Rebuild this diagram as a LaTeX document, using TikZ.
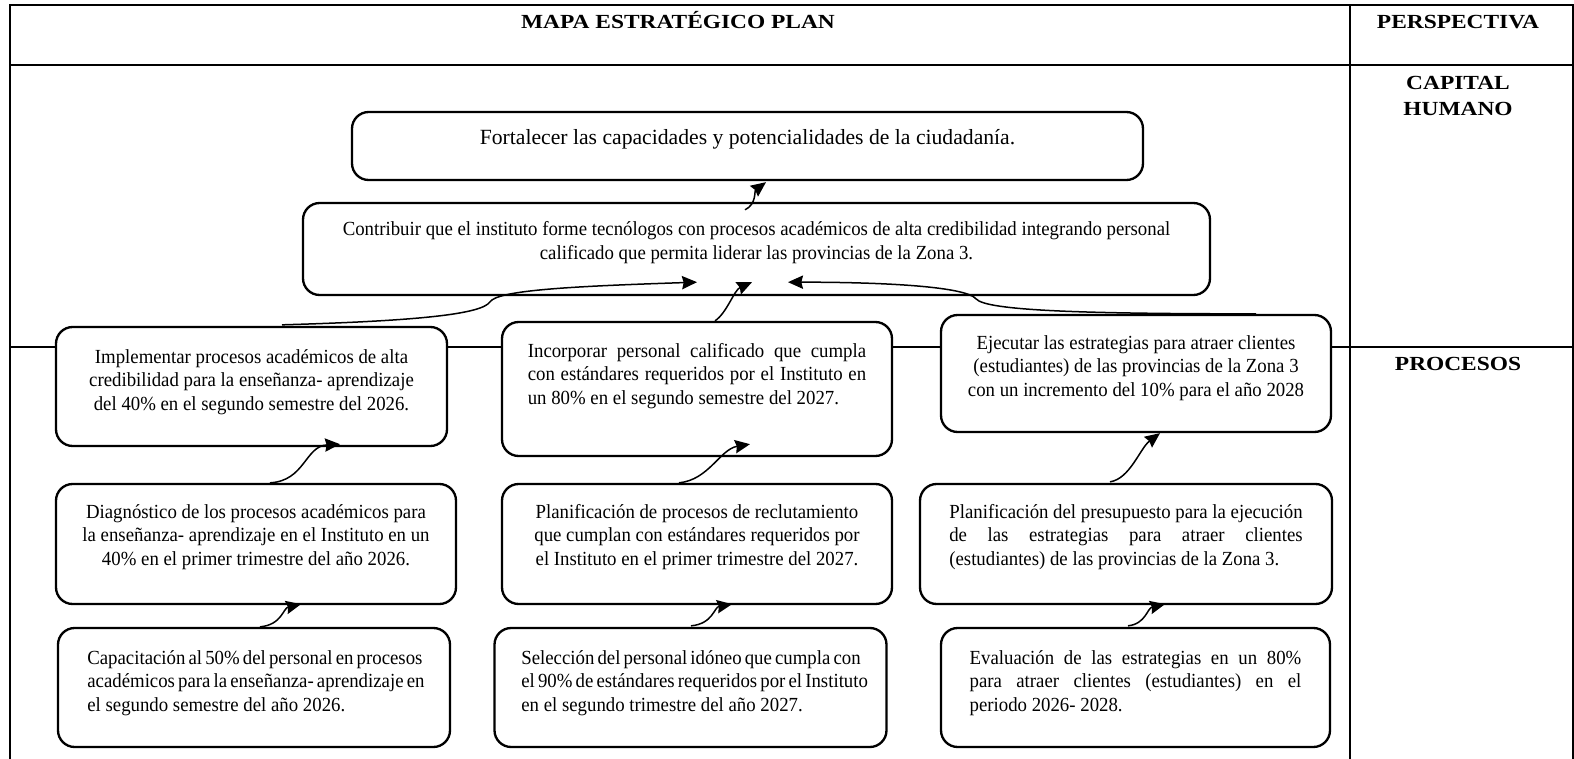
\documentclass[tikz,border=0pt]{standalone}
\usepackage{fontspec}
\setmainfont{Liberation Serif}
\newfontfamily\bodyfont[FakeStretch=0.94]{Liberation Serif}
\newfontfamily\headfont[FakeStretch=1.17]{Liberation Serif}
\usetikzlibrary{arrows.meta}

% top-aligned text blocks inside the rounded goal boxes
\newcommand\ctext[4]{\parbox[c][#1][t]{#2}{\centering\rule{0pt}{#3}#4}}
\newcommand\jtext[4]{\parbox[c][#1][t]{#2}{\rule{0pt}{#3}#4}}
\newcommand\jl[1]{\makebox[\linewidth][s]{#1}\par}

\tikzset{
  goal/.style={draw, line width=1.4pt, rounded corners=10pt, fill=white,
    inner sep=0pt, font=\bodyfont\fontsize{12}{14.2}\selectfont},
  link/.style={line width=0.9pt, -{Stealth[length=9pt,width=8pt,inset=1pt]}},
  grid/.style={line width=1.2pt},
  head/.style={font=\headfont\bfseries\fontsize{12}{15.6}\selectfont, align=center, inner sep=0pt}
}

\begin{document}
\begin{tikzpicture}[x=0.6pt, y=-0.6pt]
\useasboundingbox (0,0) rectangle (1574,759);

% table frame
\draw[grid] (10,759) -- (10,5) -- (1573,5) -- (1573,759);
\draw[grid] (10,65) -- (1573,65);
\draw[grid] (1350,5) -- (1350,759);
\draw[grid] (10,347) -- (1573,347);

% headings
\node[head, anchor=base] (title) at (678,29) {MAPA ESTRATÉGICO PLAN};
\node[head, anchor=base] (persp) at (1458,29) {PERSPECTIVA};
\node[head, anchor=north] (capital) at (1458,76) {CAPITAL\\HUMANO};
\node[head, anchor=base] (procesos) at (1458,370) {PROCESOS};

% objectives
\node[goal, font=\rmfamily\fontsize{13}{15}\selectfont, minimum width=474.6pt, minimum height=40.8pt] (B1) at (747.5,146)
  {\ctext{40.8pt}{460pt}{19.8pt}{Fortalecer las capacidades y potencialidades de la ciudadanía.}};
\node[goal, minimum width=544.2pt, minimum height=55.2pt] (B2) at (756.5,249)
  {\ctext{55.2pt}{530pt}{19.8pt}{Contribuir que el instituto forme tecnólogos con procesos académicos de alta credibilidad integrando personal\\calificado que permita liderar las provincias de la Zona 3.}};

\node[goal, minimum width=234.6pt, minimum height=71.4pt] (L1) at (251.5,386.5)
  {\ctext{71.4pt}{225pt}{21.6pt}{Implementar procesos académicos de alta\\credibilidad para la enseñanza- aprendizaje\\del 40\% en el segundo semestre del 2026.}};
\node[goal, minimum width=234pt, minimum height=80.4pt] (M1) at (697,389)
  {\jtext{80.4pt}{203pt}{21pt}{\jl{Incorporar personal calificado que cumpla}\jl{con estándares requeridos por el Instituto en}un 80\% en el segundo semestre del 2027.}};
\node[goal, minimum width=234pt, minimum height=70.2pt] (R1) at (1136,373.5)
  {\ctext{70.2pt}{225pt}{20.4pt}{Ejecutar las estrategias para atraer clientes\\(estudiantes) de las provincias de la Zona 3\\con un incremento del 10\% para el año 2028}};

\node[goal, minimum width=240pt, minimum height=72pt] (L2) at (256,544)
  {\ctext{72pt}{230pt}{20.4pt}{Diagnóstico de los procesos académicos para\\la enseñanza- aprendizaje en el Instituto en un\\40\% en el primer trimestre del año 2026.}};
\node[goal, minimum width=234pt, minimum height=72pt] (M2) at (697,544)
  {\ctext{72pt}{225pt}{20.4pt}{Planificación de procesos de reclutamiento\\que cumplan con estándares requeridos por\\el Instituto en el primer trimestre del 2027.}};
\node[goal, minimum width=247.2pt, minimum height=72pt] (R2) at (1126,544)
  {\jtext{72pt}{212pt}{20.4pt}{\jl{Planificación del presupuesto para la ejecución}\jl{de las estrategias para atraer clientes}(estudiantes) de las provincias de la Zona 3.}};

\node[goal, minimum width=235.2pt, minimum height=71.4pt] (L3) at (254,687.5)
  {\jtext{71.4pt}{200pt}{21.6pt}{\jl{Capacitación al 50\% del personal en procesos}\jl{académicos para la enseñanza- aprendizaje en}el segundo semestre del año 2026.}};
\node[goal, minimum width=235.2pt, minimum height=71.4pt] (M3) at (690.5,687.5)
  {\jtext{71.4pt}{203pt}{21.6pt}{\jl{Selección del personal idóneo que cumpla con}\jl{el 90\% de estándares requeridos por el Instituto}en el segundo trimestre del año 2027.}};
\node[goal, minimum width=233.4pt, minimum height=71.4pt] (R3) at (1135.5,687.5)
  {\jtext{71.4pt}{199pt}{21.6pt}{\jl{Evaluación de las estrategias en un 80\%}\jl{para atraer clientes (estudiantes) en el}periodo 2026- 2028.}};

% cause-effect links
\draw[link] ([shift={(-11.5,8)}]B2.north) .. controls +(12,-6) and +(-12,9) .. ([shift={(18.5,1)}]B1.south);

\draw[link] ([shift={(30.5,-1)}]L1.north) .. controls +(140,-4) and +(-8,12) ..
  ([shift={(238.5,-24)}]L1.north) .. controls +(8,-12) and +(-120,4) .. ([shift={(-59.5,-14)}]B2.south);
\draw[link] ([shift={(18,0)}]M1.north) .. controls +(12,-8) and +(-18,8) .. ([shift={(-4.5,-14)}]B2.south);
\draw[link] ([shift={(120,0)}]R1.north) .. controls +(-170,0) and +(10,12) ..
  ([shift={(-160,-15)}]R1.north) .. controls +(-10,-12) and +(100,0) .. ([shift={(31.5,-14)}]B2.south);

\draw[link] ([shift={(14,0)}]L2.north) .. controls +(35,-2) and +(-35,2) .. ([shift={(88.5,-3)}]L1.south);
\draw[link] ([shift={(-18,0)}]M2.north) .. controls +(30,-3) and +(-30,5) .. ([shift={(53,-13)}]M1.south);
\draw[link] ([shift={(-16,-1)}]R2.north) .. controls +(20,-3) and +(-20,15) .. ([shift={(24,0)}]R1.south);

\draw[link] ([shift={(6,0)}]L3.north) .. controls +(22,-2) and +(-18,4) .. ([shift={(45,-1)}]L2.south);
\draw[link] ([shift={(0.5,-1)}]M3.north) .. controls +(22,-2) and +(-18,3) .. ([shift={(35,-1)}]M2.south);
\draw[link] ([shift={(-7.5,-1)}]R3.north) .. controls +(18,-2) and +(-18,4) .. ([shift={(39,-1)}]R2.south);
\end{tikzpicture}
\end{document}
